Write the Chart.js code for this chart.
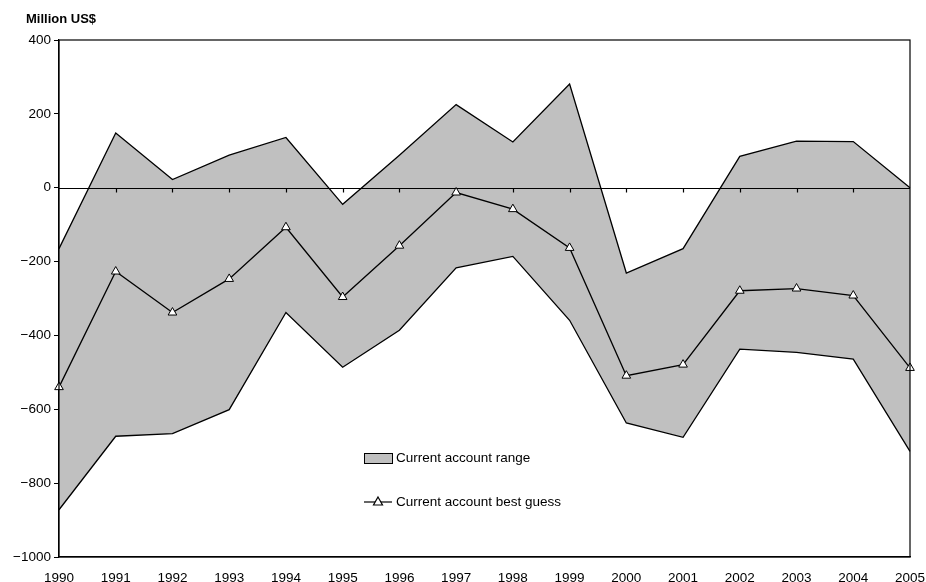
<!DOCTYPE html>
<html>
<head>
<meta charset="utf-8">
<script src="https://cdn.jsdelivr.net/npm/chart.js@4/dist/chart.umd.min.js"></script>
<style>
  html, body { margin: 0; padding: 0; background: #fff; }
  #wrap { width: 926px; height: 582px; position: relative; }
</style>
</head>
<body>
<div id="wrap"><canvas id="chart" width="926" height="582"></canvas></div>
<script>
const years = ['1990','1991','1992','1993','1994','1995','1996','1997','1998','1999','2000','2001','2002','2003','2004','2005']

// range (upper / lower) and best guess, million US$
const rangeHigh = [-165, 148, 22, 88, 136, -45, 88, 225, 124, 281, -231, -165, 85, 126, 125, 0]
const rangeLow = [-872, -673, -666, -601, -338, -486, -386, -217, -186, -359, -637, -676, -437, -446, -464, -714]
const bestGuess = [-540, -227, -338, -247, -107, -296, -157, -13, -58, -163, -509, -479, -279, -273, -292, -488]

const yTicks = [400, 200, 0, -200, -400, -600, -800, -1000]

const FONT = 'Liberation Sans, Arial, Helvetica, sans-serif'
const fillGrey = '#c0c0c0'

// frame, zero line, title and legend
const extras = {
    id: 'extras',
    beforeDatasetsDraw(chart) {
        const ctx = chart.ctx
        const a = chart.chartArea
        const x = chart.scales.x
        const y = chart.scales.y
        // zero line drawn under the marker line but over the fill
        ctx.save()
        ctx.strokeStyle = '#000'
        ctx.lineWidth = 1.2
        const y0 = Math.round(y.getPixelForValue(0)) + 0.5
        ctx.beginPath()
        ctx.moveTo(a.left, y0)
        ctx.lineTo(a.right, y0)
        for (let i = 1; i < years.length - 1; i++) {
            const px = Math.round(x.getPixelForValue(i)) + 0.5
            ctx.moveTo(px, y0)
            ctx.lineTo(px, y0 + 4)
        }
        ctx.stroke()
        ctx.restore()
    },
    afterDatasetsDraw(chart) {
        const ctx = chart.ctx
        const a = chart.chartArea
        ctx.save()
        ctx.strokeStyle = '#000'
        ctx.lineWidth = 1.2
        ctx.strokeRect(a.left, a.top, a.right - a.left, a.bottom - a.top)

        // unit label
        ctx.fillStyle = '#000'
        ctx.font = 'bold 13px ' + FONT
        ctx.textBaseline = 'middle'
        ctx.textAlign = 'left'
        ctx.fillText('Million US$', 26, 19)

        // legend
        ctx.font = '13.5px ' + FONT
        ctx.fillStyle = fillGrey
        ctx.fillRect(364, 453, 28, 10)
        ctx.lineWidth = 1
        ctx.strokeRect(364.5, 453.5, 28, 10)
        ctx.fillStyle = '#000'
        ctx.fillText('Current account range', 396, 458)

        ctx.beginPath()
        ctx.moveTo(364, 502)
        ctx.lineTo(392, 502)
        ctx.lineWidth = 1.2
        ctx.stroke()
        ctx.beginPath()
        ctx.moveTo(378, 497)
        ctx.lineTo(382.5, 505)
        ctx.lineTo(373.5, 505)
        ctx.closePath()
        ctx.fillStyle = '#fff'
        ctx.fill()
        ctx.stroke()
        ctx.fillStyle = '#000'
        ctx.fillText('Current account best guess', 396, 502)
        ctx.restore()
    }
}

const config = {
    type: 'line',
    data: {
        labels: years,
        datasets: [{
            label: 'Current account range',
            data: rangeHigh,
            borderColor: '#000',
            borderWidth: 1.3,
            backgroundColor: fillGrey,
            pointRadius: 0,
            tension: 0,
            fill: '+1'
        }, {
            label: 'range low',
            data: rangeLow,
            borderColor: '#000',
            borderWidth: 1.3,
            pointRadius: 0,
            tension: 0,
            fill: false
        }, {
            label: 'Current account best guess',
            data: bestGuess,
            borderColor: '#000',
            borderWidth: 1.3,
            pointStyle: 'triangle',
            pointRadius: 5,
            pointBackgroundColor: '#fff',
            pointBorderColor: '#000',
            pointBorderWidth: 1,
            tension: 0,
            fill: false,
            clip: false
        }]
    },
    options: {
        responsive: false,
        animation: false,
        layout: { padding: { top: 40, right: 16, left: 0, bottom: 0 } },
        plugins: {
            legend: { display: false },
            tooltip: { enabled: false },
            filler: { drawTime: 'beforeDatasetsDraw' }
        },
        scales: {
            x: {
                offset: false,
                grid: { display: false },
                border: { display: true, color: '#000', width: 1.2 },
                ticks: {
                    color: '#000',
                    font: { family: FONT, size: 13.5 },
                    padding: 5,
                    maxRotation: 0,
                    autoSkip: false
                },
                afterFit(scale) {
                    scale.height = 25
                    scale.paddingLeft = 0
                    scale.paddingRight = 0
                }
            },
            y: {
                min: -1000,
                max: 400,
                grid: { drawOnChartArea: false, color: '#000', tickLength: 5 },
                border: { display: true, color: '#000', width: 1.2 },
                afterBuildTicks(scale) {
                    scale.ticks = yTicks.map(v => ({ value: v }))
                },
                ticks: {
                    color: '#000',
                    padding: 3,
                    font: { family: FONT, size: 13.5 },
                    callback: v => String(v).replace('-', '\u2212')
                },
                afterFit(scale) { scale.width = 59 }
            }
        }
    },
    plugins: [extras]
}

const chart = new Chart(document.getElementById('chart'), config)
</script>
</body>
</html>
